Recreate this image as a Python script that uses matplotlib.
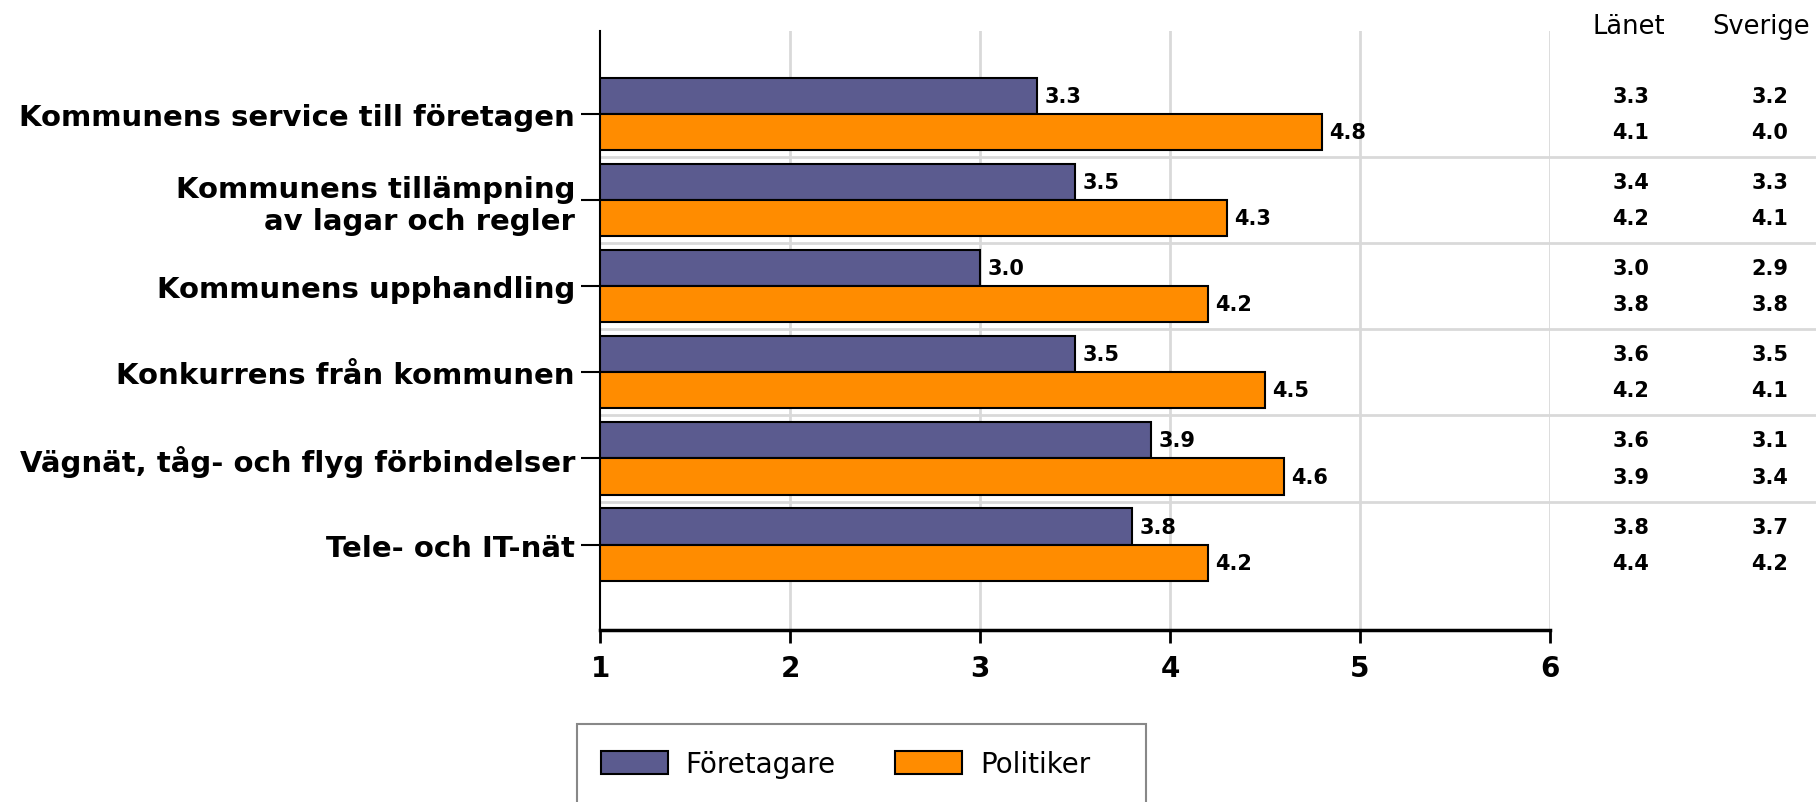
import numpy as np
import matplotlib
matplotlib.use("Agg")
import matplotlib.pyplot as plt
from matplotlib.patches import Patch, Rectangle

plt.rcParams["font.family"] = ["DejaVu Sans"]

# data
categories = [
    "Kommunens service till företagen",
    "Kommunens tillämpning\nav lagar och regler",
    "Kommunens upphandling",
    "Konkurrens från kommunen",
    "Vägnät, tåg- och flyg förbindelser",
    "Tele- och IT-nät",
]
foretagare = [3.3, 3.5, 3.0, 3.5, 3.9, 3.8]
politiker = [4.8, 4.3, 4.2, 4.5, 4.6, 4.2]
lanet_foretagare = [3.3, 3.4, 3.0, 3.6, 3.6, 3.8]
lanet_politiker = [4.1, 4.2, 3.8, 4.2, 3.9, 4.4]
sverige_foretagare = [3.2, 3.3, 2.9, 3.5, 3.1, 3.7]
sverige_politiker = [4.0, 4.1, 3.8, 4.1, 3.4, 4.2]
series_names = ["Företagare", "Politiker"]
table_headers = ["Länet", "Sverige"]

c_purple = "#5b5b8f"
c_orange = "#ff8c00"

W, H = 1816, 803
fig = plt.figure(figsize=(W / 100, H / 100), dpi=100)
ax = fig.add_axes([600 / W, 1 - 631 / H, 950 / W, 599 / H])

y = np.arange(len(categories))
h = 0.42
x0 = 1
ax.barh(y - h / 2, np.array(foretagare) - x0, left=x0, height=h,
        color=c_purple, edgecolor="black", linewidth=1.5, zorder=3)
ax.barh(y + h / 2, np.array(politiker) - x0, left=x0, height=h,
        color=c_orange, edgecolor="black", linewidth=1.5, zorder=3)

for yi, v in zip(y - h / 2, foretagare):
    ax.text(v + 0.04, yi, f"{v:.1f}", va="center", ha="left",
            fontsize=15, fontweight="bold", zorder=4)
for yi, v in zip(y + h / 2, politiker):
    ax.text(v + 0.04, yi, f"{v:.1f}", va="center", ha="left",
            fontsize=15, fontweight="bold", zorder=4)

ax.set_xlim(1, 6)
ax.set_ylim(5.99, -0.96)
ax.set_xticks([1, 2, 3, 4, 5, 6])
ax.set_xticklabels(["1", "2", "3", "4", "5", "6"], fontsize=20, fontweight="bold")
ax.set_yticks(y)
ax.set_yticklabels(categories, fontsize=21, fontweight="bold")

# grid
for xv in [2, 3, 4, 5, 6]:
    ax.axvline(xv, color="#d9d9d9", lw=2, zorder=1)
for sep in np.arange(0.5, len(categories) - 1, 1):
    ax.axhline(sep, xmin=0, xmax=(W - 600) / 950, color="#d9d9d9", lw=2,
               zorder=1, clip_on=False)

for s in ["top", "right"]:
    ax.spines[s].set_visible(False)
ax.spines["left"].set_linewidth(1.5)
ax.spines["bottom"].set_linewidth(2.5)
ax.tick_params(axis="y", length=14, width=1.5, pad=4)
ax.tick_params(axis="x", length=9, width=2, pad=8)

# table on the right
ax.text(6.416, -1.02, table_headers[0], ha="center", va="center", fontsize=18.5, clip_on=False)
ax.text(7.111, -1.02, table_headers[1], ha="center", va="center", fontsize=18.5, clip_on=False)
for i in range(len(categories)):
    ax.text(6.426, i - h / 2, f"{lanet_foretagare[i]:.1f}", ha="center", va="center",
            fontsize=15, fontweight="bold", clip_on=False)
    ax.text(6.426, i + h / 2, f"{lanet_politiker[i]:.1f}", ha="center", va="center",
            fontsize=15, fontweight="bold", clip_on=False)
    ax.text(7.158, i - h / 2, f"{sverige_foretagare[i]:.1f}", ha="center", va="center",
            fontsize=15, fontweight="bold", clip_on=False)
    ax.text(7.158, i + h / 2, f"{sverige_politiker[i]:.1f}", ha="center", va="center",
            fontsize=15, fontweight="bold", clip_on=False)

# legend
fig.patches.append(Rectangle((577 / W, -0.05), (1146 - 577) / W, 0.05 + 1 - 725 / H,
                             transform=fig.transFigure, fill=False,
                             edgecolor="#888888", lw=1.5))
handles = [Patch(facecolor=c_purple, edgecolor="black", lw=1.5),
           Patch(facecolor=c_orange, edgecolor="black", lw=1.5)]
fig.legend(handles, series_names, loc="center left",
           bbox_to_anchor=(587 / W, 1 - 765 / H), ncol=2, frameon=False,
           fontsize=20, borderpad=0, handlelength=2.4, handleheight=0.92,
           handletextpad=0.65, columnspacing=2.15)

fig.savefig("out.png", dpi=100)
